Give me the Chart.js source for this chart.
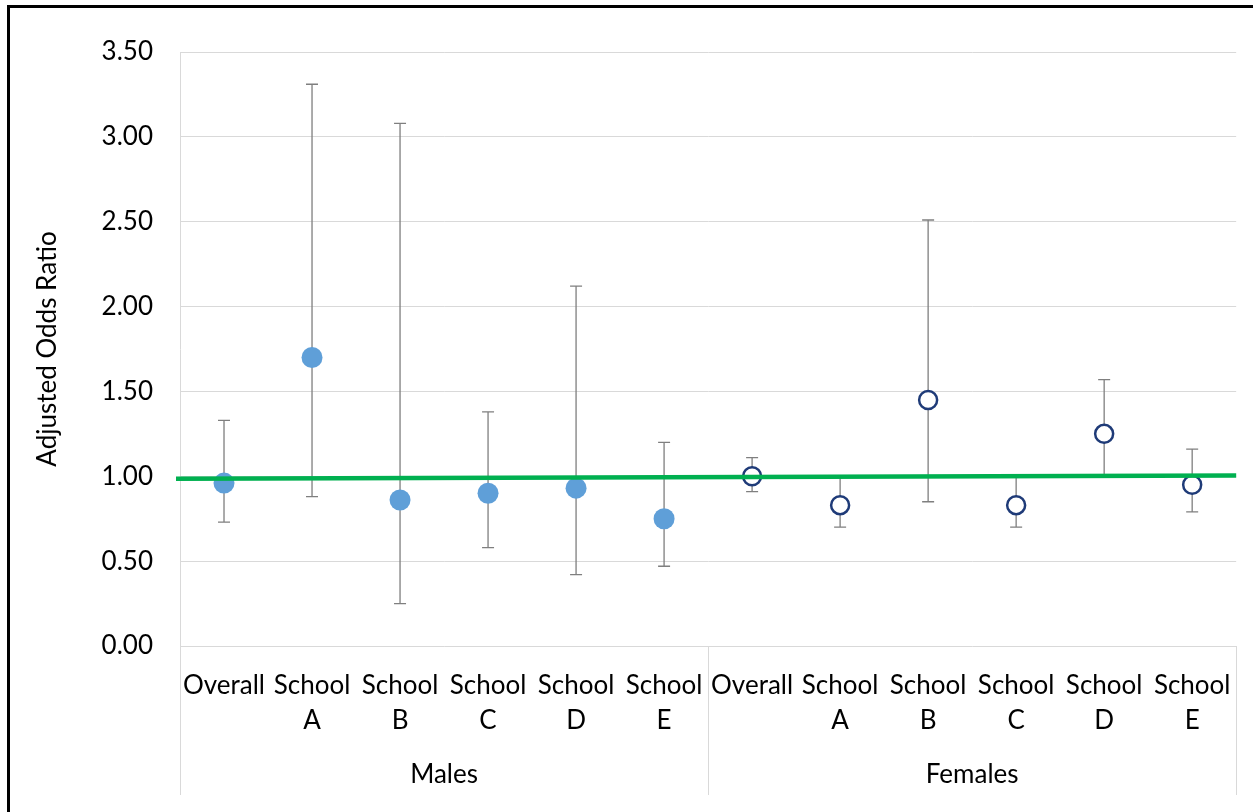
<!DOCTYPE html>
<html>
<head>
<meta charset="utf-8">
<script src="https://cdn.jsdelivr.net/npm/chart.js@4/dist/chart.umd.min.js"></script>
<style>
  html, body { margin: 0; padding: 0; background: #fff; }
  #wrap { position: relative; width: 1253px; height: 812px; overflow: hidden; }
  #frame { position: absolute; left: 7px; top: 5px; width: 1300px; height: 900px; border: 3px solid #000; box-sizing: border-box; }
  canvas { position: absolute; left: 0; top: 0; }
</style>
</head>
<body>
<div id="wrap">
  <div id="frame"></div>
  <canvas id="c" width="1253" height="812"></canvas>
</div>
<script>
// ---- data ----
const groups = ['Males', 'Females'];
const subCategories = [['Overall'], ['School', 'A'], ['School', 'B'], ['School', 'C'], ['School', 'D'], ['School', 'E']];
const yTicks = [0, 0.5, 1.0, 1.5, 2.0, 2.5, 3.0, 3.5];

const maleOR   = [0.96, 1.70, 0.86, 0.90, 0.93, 0.75];
const maleLow  = [0.73, 0.88, 0.25, 0.58, 0.42, 0.47];
const maleHigh = [1.33, 3.31, 3.08, 1.38, 2.12, 1.20];

const femaleOR   = [1.00, 0.83, 1.45, 0.83, 1.25, 0.95];
const femaleLow  = [0.91, 0.70, 0.85, 0.70, 1.00, 0.79];
const femaleHigh = [1.11, 1.00, 2.51, 1.00, 1.57, 1.16];

const refLineStart = 0.985;
const refLineEnd = 1.005;

// ---- build ----
const labels = [];
groups.forEach(() => subCategories.forEach(s => labels.push(s)));
const n = subCategories.length;
const nulls = new Array(n).fill(null);
const maleData = maleOR.concat(nulls);
const femaleData = nulls.concat(femaleOR);
const lowAll = maleLow.concat(femaleLow);
const highAll = maleHigh.concat(femaleHigh);

const FONT = 'Lato, "Open Sans", sans-serif';

const errorBars = {
  id: 'errorBars',
  beforeDatasetsDraw(chart) {
    const ctx = chart.ctx, xs = chart.scales.x, ys = chart.scales.y;
    ctx.save();
    ctx.strokeStyle = '#7f7f7f';
    ctx.lineWidth = 1.3;
    for (let i = 0; i < labels.length; i++) {
      const x = xs.getPixelForValue(i);
      const y1 = ys.getPixelForValue(lowAll[i]);
      const y2 = ys.getPixelForValue(highAll[i]);
      ctx.beginPath();
      ctx.moveTo(x, y1); ctx.lineTo(x, y2);
      ctx.moveTo(x - 6, y1); ctx.lineTo(x + 6, y1);
      ctx.moveTo(x - 6, y2); ctx.lineTo(x + 6, y2);
      ctx.stroke();
    }
    ctx.restore();
  }
};

const refLine = {
  id: 'refLine',
  afterDatasetsDraw(chart) {
    const ctx = chart.ctx, xs = chart.scales.x, ys = chart.scales.y;
    ctx.save();
    ctx.strokeStyle = '#00b050';
    ctx.lineWidth = 4.5;
    ctx.beginPath();
    ctx.moveTo(xs.left - 4, ys.getPixelForValue(refLineStart));
    ctx.lineTo(xs.right, ys.getPixelForValue(refLineEnd));
    ctx.stroke();
    ctx.restore();
  }
};

const groupAxis = {
  id: 'groupAxis',
  afterDraw(chart) {
    const ctx = chart.ctx, xs = chart.scales.x;
    const top = chart.chartArea.bottom;
    const bottom = 795;
    ctx.save();
    ctx.strokeStyle = '#d9d9d9';
    ctx.lineWidth = 1;
    const bounds = [];
    for (let g = 0; g <= groups.length; g++) {
      const idx = g * n;
      let x;
      if (idx === 0) x = xs.left;
      else if (idx >= labels.length) x = xs.right;
      else x = (xs.getPixelForValue(idx - 1) + xs.getPixelForValue(idx)) / 2;
      bounds.push(x);
      ctx.beginPath();
      ctx.moveTo(Math.round(x) + 0.5, top);
      ctx.lineTo(Math.round(x) + 0.5, bottom);
      ctx.stroke();
    }
    ctx.fillStyle = '#000';
    ctx.font = '26px ' + FONT;
    ctx.textAlign = 'center';
    ctx.textBaseline = 'middle';
    groups.forEach((g, i) => {
      ctx.fillText(g, (bounds[i] + bounds[i + 1]) / 2, 775);
    });
    ctx.restore();
  }
};

new Chart(document.getElementById('c'), {
  type: 'line',
  data: {
    labels: labels,
    datasets: [
      {
        label: 'Males',
        data: maleData,
        showLine: false,
        pointRadius: 10.5,
        pointHoverRadius: 10.5,
        pointBackgroundColor: '#5f9fd8',
        pointBorderColor: '#5f9fd8',
        pointBorderWidth: 0
      },
      {
        label: 'Females',
        data: femaleData,
        showLine: false,
        pointRadius: 9,
        pointHoverRadius: 9,
        pointBackgroundColor: '#ffffff',
        pointBorderColor: '#1f3b78',
        pointBorderWidth: 2.5
      }
    ]
  },
  options: {
    responsive: false,
    animation: false,
    events: [],
    layout: { padding: { top: 52, right: 13, left: 0, bottom: 0 } },
    plugins: { legend: { display: false }, tooltip: { enabled: false } },
    scales: {
      x: {
        type: 'category',
        offset: true,
        grid: { display: false, drawTicks: false },
        border: { display: false },
        ticks: {
          color: '#000',
          font: { family: FONT, size: 26, lineHeight: 1.35 },
          padding: 22,
          autoSkip: false,
          maxRotation: 0,
          minRotation: 0
        },
        afterFit(scale) { scale.height = 812 - 646; }
      },
      y: {
        min: 0,
        max: 3.5,
        afterBuildTicks(scale) { scale.ticks = yTicks.map(v => ({ value: v })); },
        grid: { color: '#d9d9d9', lineWidth: 1, drawTicks: false },
        border: { display: true, color: '#d9d9d9' },
        ticks: {
          color: '#000',
          font: { family: FONT, size: 26 },
          padding: 27,
          callback: v => Number(v).toFixed(2)
        },
        title: {
          display: true,
          text: 'Adjusted Odds Ratio',
          color: '#000',
          font: { family: FONT, size: 26 },
          padding: { top: 32, bottom: 0 }
        },
        afterFit(scale) { scale.width = 180; }
      }
    }
  },
  plugins: [errorBars, refLine, groupAxis]
});
</script>
</body>
</html>
